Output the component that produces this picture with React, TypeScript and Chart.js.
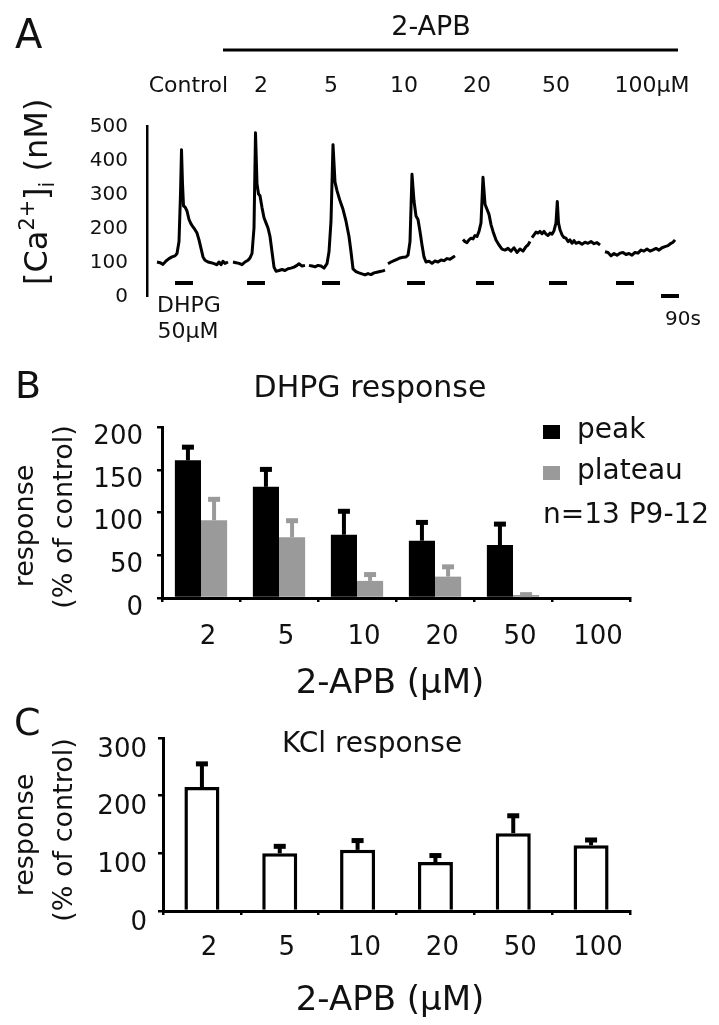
import React, { useEffect, useRef } from 'react';
import { Chart, registerables } from 'chart.js';

Chart.register(...registerables);

const FONT = "'DejaVu Sans', sans-serif";
const INK = '#111';
const W = 719;
const H = 1025;

// ---------- Panel A: [Ca2+]i traces (time in s, values in nM) ----------
const concLabels = ['Control', '2', '5', '10', '20', '50', '100µM'];
const concLabelTimes = [207, 570, 920, 1285, 1650, 2045, 2525];

const trace1T = [50, 65, 80, 95, 110, 125, 140, 150, 160, 167.5, 172.5, 177.5, 182.5, 190, 200, 210, 220, 230, 240, 250, 260, 270, 280, 290, 305, 320, 335, 350, 360, 370, 380, 390, 405];
const trace1V = [100, 98, 93, 103, 110, 115, 118, 125, 160, 300, 430, 330, 265, 262, 250, 225, 212, 203, 195, 185, 165, 140, 115, 105, 100, 98, 95, 92, 100, 92, 102, 96, 100];

const trace2T = [430, 445, 460, 475, 490, 505, 515, 525, 535, 542.5, 550, 557.5, 565, 575, 585, 595, 605, 615, 625, 635, 645, 660, 675, 690, 705, 720, 735, 750, 760, 775, 790];
const trace2V = [100, 98, 96, 92, 100, 105, 112, 125, 200, 480, 330, 300, 295, 260, 230, 215, 200, 175, 130, 85, 73, 75, 78, 75, 80, 82, 85, 90, 95, 88, 90];

const trace3T = [810, 825, 840, 855, 870, 885, 900, 910, 920, 930, 940, 950, 965, 980, 995, 1010, 1020, 1030, 1045, 1060, 1075, 1090, 1105, 1120, 1135, 1150, 1165, 1180, 1190];
const trace3V = [90, 88, 86, 90, 88, 82, 95, 130, 220, 445, 335, 310, 280, 255, 220, 175, 130, 80, 72, 68, 65, 62, 66, 63, 68, 70, 72, 74, 76];

const trace4T = [1205, 1220, 1235, 1250, 1265, 1280, 1295, 1305, 1315, 1325, 1335, 1345, 1355, 1365, 1375, 1385, 1395, 1410, 1425, 1440, 1455, 1470, 1485, 1500, 1515, 1530, 1540];
const trace4V = [95, 100, 104, 108, 112, 114, 115, 120, 160, 358, 280, 235, 225, 190, 150, 115, 100, 102, 96, 103, 100, 106, 104, 110, 108, 114, 118];

const trace5T = [1580, 1590, 1600, 1610, 1620, 1630, 1640, 1650, 1660, 1670, 1680, 1690, 1700, 1710, 1720, 1730, 1745, 1760, 1775, 1790, 1805, 1820, 1835, 1850, 1865, 1880, 1895, 1905, 1915];
const trace5V = [166, 160, 157, 165, 170, 168, 178, 175, 190, 215, 349, 270, 255, 240, 210, 190, 165, 150, 138, 135, 140, 132, 142, 128, 138, 132, 145, 150, 160];

const trace6T = [1925, 1935, 1945, 1955, 1965, 1975, 1985, 1995, 2005, 2015, 2025, 2035, 2045, 2051.5, 2057.5, 2065, 2075, 2085, 2095, 2105, 2115, 2125, 2135, 2145, 2160, 2175, 2190, 2205, 2220, 2235, 2250, 2265];
const trace6V = [172, 180, 188, 185, 190, 183, 190, 182, 178, 185, 182, 192, 215, 278, 215, 195, 180, 172, 170, 160, 165, 155, 163, 155, 158, 152, 158, 155, 160, 154, 157, 150];

const trace7T = [2290, 2305, 2320, 2335, 2350, 2365, 2380, 2395, 2410, 2425, 2440, 2455, 2470, 2485, 2500, 2515, 2530, 2545, 2560, 2575, 2590, 2605, 2620, 2630, 2640];
const trace7V = [130, 128, 118, 125, 120, 126, 128, 122, 125, 120, 128, 126, 135, 132, 138, 132, 136, 140, 135, 142, 145, 148, 155, 158, 165];

const traceTimes = [trace1T, trace2T, trace3T, trace4T, trace5T, trace6T, trace7T];
const traceValues = [trace1V, trace2V, trace3V, trace4V, trace5V, trace6V, trace7V];

const stimStarts = [140, 500, 875, 1300, 1645, 2010, 2345];
const stimDuration = 90;
const stimLevel = 38;
const scaleBarStart = 2570;
const scaleBarLength = 90;
const apbStart = 380;
const apbEnd = 2655;
const yTicksA = [0, 100, 200, 300, 400, 500];

// ---------- Panel B: DHPG response ----------
const apbConc = ['2', '5', '10', '20', '50', '100'];
const peakMean = [161, 130, 74, 67, 62, 0];
const peakErr = [16, 21, 28, 22, 25, 0];
const plateauMean = [91, 71, 20, 25, 3.5, 0];
const plateauErr = [25, 20, 8, 12, 1, 0];

// ---------- Panel C: KCl response ----------
const kclMean = [215, 100, 106, 85, 135, 114];
const kclErr = [41, 13, 17, 12, 31, 10];

function drawText(ctx: CanvasRenderingContext2D, str: string, x: number, y: number, size: number, align: CanvasTextAlign = 'left', rotate = false) {
  ctx.save();
  ctx.font = `${size}px ${FONT}`;
  ctx.fillStyle = INK;
  ctx.textAlign = align;
  ctx.textBaseline = 'alphabetic';
  ctx.translate(x, y);
  if (rotate) ctx.rotate(-Math.PI / 2);
  ctx.fillText(str, 0, 0);
  ctx.restore();
}

const errorBarPlugin = {
  id: 'errorBars',
  afterDatasetsDraw(chart: any) {
    const ctx = chart.ctx;
    const ys = chart.scales.y;
    chart.data.datasets.forEach((ds: any, i: number) => {
      if (!ds.errors) return;
      const meta = chart.getDatasetMeta(i);
      meta.data.forEach((bar: any, j: number) => {
        const v = ds.data[j];
        const e = ds.errors[j];
        if (!e) return;
        const x = bar.x;
        const yTop = bar.y;
        const yErr = ys.getPixelForValue(v + e);
        ctx.save();
        ctx.strokeStyle = ds.errorColor;
        ctx.fillStyle = ds.errorColor;
        ctx.lineWidth = 4;
        ctx.beginPath();
        ctx.moveTo(x, yTop);
        ctx.lineTo(x, yErr);
        ctx.stroke();
        ctx.fillRect(x - 6, yErr - 2, 12, 5);
        ctx.restore();
      });
    });
  },
};

const annotA = {
  id: 'annotA',
  afterDraw(chart: any) {
    const ctx = chart.ctx;
    const xs = chart.scales.x;
    drawText(ctx, 'A', 15, 48, 40);
    drawText(ctx, '2-APB', 431, 35, 27, 'center');
    ctx.save();
    ctx.strokeStyle = '#000';
    ctx.lineWidth = 3;
    ctx.beginPath();
    ctx.moveTo(xs.getPixelForValue(apbStart), 50);
    ctx.lineTo(xs.getPixelForValue(apbEnd), 50);
    ctx.stroke();
    ctx.restore();
    concLabels.forEach((lab, i) => drawText(ctx, lab, xs.getPixelForValue(concLabelTimes[i]), 92, 22, 'center'));
    drawText(ctx, 'DHPG', 189, 312, 22, 'center');
    drawText(ctx, '50µM', 188, 338, 22, 'center');
    drawText(ctx, '90s', 665, 325, 20, 'left');
    // y title [Ca2+]i (nM)
    const fs = 32;
    ctx.save();
    ctx.fillStyle = INK;
    ctx.textBaseline = 'alphabetic';
    ctx.translate(47, 285);
    ctx.rotate(-Math.PI / 2);
    let cx = 0;
    const part = (s: string, size: number, dy: number) => {
      ctx.font = `${size}px ${FONT}`;
      ctx.fillText(s, cx, dy);
      cx += ctx.measureText(s).width;
    };
    part('[Ca', fs, 0);
    part('2+', fs * 0.65, -fs * 0.4);
    part(']', fs, 0);
    part('i', fs * 0.65, fs * 0.22);
    part(' (nM)', fs, 0);
    ctx.restore();
  },
};

const annotB = {
  id: 'annotB',
  afterDraw(chart: any) {
    const ctx = chart.ctx;
    drawText(ctx, 'B', 15, 398, 38);
    drawText(ctx, 'DHPG response', 370, 397, 30, 'center');
    drawText(ctx, 'response', 33, 526, 27, 'center', true);
    drawText(ctx, '(% of control)', 72, 517, 27, 'center', true);
    drawText(ctx, '2-APB (µM)', 390, 693, 34, 'center');
    chart.data.datasets.forEach((ds: any, i: number) => {
      ctx.save();
      ctx.fillStyle = ds.backgroundColor;
      ctx.fillRect(543, 425 + i * 41, 17, 14);
      ctx.restore();
      drawText(ctx, ds.label, 577, 438 + i * 41, 28, 'left');
    });
    drawText(ctx, 'n=13 P9-12', 543, 523, 28, 'left');
  },
};

const annotC = {
  id: 'annotC',
  afterDraw(chart: any) {
    const ctx = chart.ctx;
    drawText(ctx, 'C', 14, 735, 38);
    drawText(ctx, 'KCl response', 372, 752, 28, 'center');
    drawText(ctx, 'response', 33, 835, 27, 'center', true);
    drawText(ctx, '(% of control)', 72, 830, 27, 'center', true);
    drawText(ctx, '2-APB (µM)', 390, 1010, 34, 'center');
  },
};

const axisGrid = { display: true, drawOnChartArea: false, drawTicks: true, tickLength: 5, color: '#000', lineWidth: 2.5 };
const axisBorder = { display: true, color: '#000', width: 3 };

function baseOptions(padding: any) {
  return {
    responsive: false,
    animation: false,
    devicePixelRatio: 1,
    events: [],
    layout: { padding },
    plugins: { legend: { display: false }, tooltip: { enabled: false }, title: { display: false } },
  };
}

export default function App() {
  const refA = useRef<HTMLCanvasElement>(null);
  const refB = useRef<HTMLCanvasElement>(null);
  const refC = useRef<HTMLCanvasElement>(null);

  useEffect(() => {
    Chart.defaults.font.family = FONT;
    Chart.defaults.color = INK;

    const traceSets = traceTimes.map((ts, i) => ({
      data: ts.map((t, j) => ({ x: t, y: traceValues[i][j] })),
      borderColor: '#000',
      borderWidth: 3,
      pointRadius: 0,
      tension: 0,
      borderJoinStyle: 'round',
    }));
    const stimData: any[] = [];
    stimStarts.forEach((s) => {
      stimData.push({ x: s, y: stimLevel }, { x: s + stimDuration, y: stimLevel }, { x: s + stimDuration + 1, y: null });
    });

    const chartA = new Chart(refA.current!, {
      type: 'line',
      data: {
        datasets: [
          ...traceSets,
          { data: stimData, borderColor: '#000', borderWidth: 4, pointRadius: 0, spanGaps: false, borderCapStyle: 'butt' },
          {
            data: [{ x: scaleBarStart, y: 0 }, { x: scaleBarStart + scaleBarLength, y: 0 }],
            borderColor: '#000', borderWidth: 4, pointRadius: 0, clip: false, borderCapStyle: 'butt',
          },
        ] as any,
      },
      options: {
        ...baseOptions({ left: 0, top: 126, right: 19, bottom: H - 296 }),
        scales: {
          x: { type: 'linear', min: 0, max: 2765, display: false },
          y: {
            min: 0, max: 500,
            afterFit: (s: any) => { s.width = 147; },
            afterBuildTicks: (s: any) => { s.ticks = yTicksA.map((v) => ({ value: v })); },
            ticks: { font: { family: FONT, size: 20 }, color: INK, padding: 19, labelOffset: 1 },
            grid: { display: false, drawTicks: false },
            border: { display: true, color: '#000', width: 2.5 },
          },
        },
      } as any,
      plugins: [annotA],
    });

    const chartB = new Chart(refB.current!, {
      type: 'bar',
      data: {
        labels: apbConc,
        datasets: [
          { label: 'peak', data: peakMean, errors: peakErr, errorColor: '#000', backgroundColor: '#000', categoryPercentage: 0.67, barPercentage: 1 },
          { label: 'plateau', data: plateauMean, errors: plateauErr, errorColor: '#9a9a9a', backgroundColor: '#9a9a9a', categoryPercentage: 0.67, barPercentage: 1 },
        ] as any,
      },
      options: {
        ...baseOptions({ left: 0, top: 427, right: W - 630, bottom: H - 598 - 60 }),
        scales: {
          x: {
            afterFit: (s: any) => { s.height = 60; },
            ticks: { font: { family: FONT, size: 26 }, color: INK, padding: 20, labelOffset: 7 },
            grid: { ...axisGrid, tickLength: 4 },
            border: axisBorder,
          },
          y: {
            min: 0, max: 200,
            afterFit: (s: any) => { s.width = 162; },
            ticks: { stepSize: 50, font: { family: FONT, size: 26 }, color: INK, padding: 14, labelOffset: 10 },
            grid: axisGrid,
            border: axisBorder,
          },
        },
      } as any,
      plugins: [errorBarPlugin, annotB],
    });

    const chartC = new Chart(refC.current!, {
      type: 'bar',
      data: {
        labels: apbConc,
        datasets: [
          { label: 'KCl', data: kclMean, errors: kclErr, errorColor: '#000', backgroundColor: '#fff', borderColor: '#000', borderWidth: 3.5, categoryPercentage: 1, barPercentage: 0.45 },
        ] as any,
      },
      options: {
        ...baseOptions({ left: 0, top: 738, right: W - 630, bottom: H - 911 - 60 }),
        scales: {
          x: {
            afterFit: (s: any) => { s.height = 60; },
            ticks: { font: { family: FONT, size: 26 }, color: INK, padding: 18, labelOffset: 7 },
            grid: { ...axisGrid, tickLength: 4 },
            border: axisBorder,
          },
          y: {
            min: 0, max: 300,
            afterFit: (s: any) => { s.width = 163; },
            ticks: { stepSize: 100, font: { family: FONT, size: 26 }, color: INK, padding: 11, labelOffset: 12 },
            grid: axisGrid,
            border: axisBorder,
          },
        },
      } as any,
      plugins: [errorBarPlugin, annotC],
    });

    return () => {
      chartA.destroy();
      chartB.destroy();
      chartC.destroy();
    };
  }, []);

  const cs: React.CSSProperties = { position: 'absolute', left: 0, top: 0, width: W, height: H };
  return (
    <div style={{ position: 'absolute', left: 0, top: 0, width: W, height: H, background: '#fff' }}>
      <canvas ref={refA} width={W} height={H} style={cs} />
      <canvas ref={refB} width={W} height={H} style={cs} />
      <canvas ref={refC} width={W} height={H} style={cs} />
    </div>
  );
}
